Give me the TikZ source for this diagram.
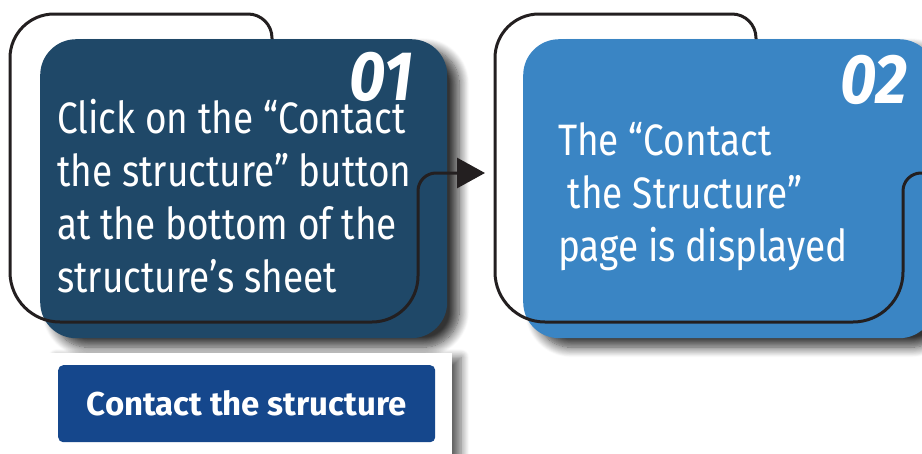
\documentclass[tikz,border=0pt]{standalone}
\usepackage{fontspec}
\setmainfont{Fira Sans}[FakeStretch=0.84]
\newfontfamily\numfont{Fira Sans}[FakeStretch=0.9]
\newfontfamily\btnfont{Fira Sans}
\usetikzlibrary{arrows.meta,shadows.blur}
\definecolor{stepnavy}{RGB}{31,72,104}
\definecolor{stepblue}{RGB}{58,133,196}
\definecolor{btnblue}{RGB}{21,71,140}
\definecolor{inkline}{RGB}{35,31,32}

\begin{document}
\begin{tikzpicture}[x=1pt, y=-1pt,
    card/.style = {rounded corners=36pt, inner sep=0pt, anchor=north west,
        blur shadow={shadow xshift=12pt, shadow yshift=-9pt, shadow blur steps=12, shadow blur radius=10pt, shadow opacity=80}},
    steptext/.style = {text=white, align=left, anchor=north west, inner sep=0pt, font=\fontsize{44}{53}\selectfont},
    stepnum/.style = {text=white, anchor=north east, inner sep=0pt, font=\numfont\bfseries\itshape\fontsize{70}{70}\selectfont},
    outline/.style = {draw=inkline, line width=3pt}]
    \useasboundingbox (0,0) rectangle (922,453);

    % step cards
    \node[card, fill=stepnavy, minimum width=407pt, minimum height=299pt] (box1) at (40,39) {};
    \node[card, fill=stepblue, minimum width=412pt, minimum height=299pt] (box2) at (523,39) {};

    % button preview
    \node[fill=white, inner sep=0pt, anchor=north west, minimum width=405pt, minimum height=110pt,
        blur shadow={shadow xshift=9pt, shadow yshift=-4pt, shadow blur steps=10, shadow blur radius=8pt, shadow opacity=60}] (panel) at (47,353) {};
    \node[fill=btnblue, rounded corners=5pt, anchor=north west, minimum width=377pt, minimum height=77pt,
        text=white, font=\btnfont\bfseries\fontsize{33}{33}\selectfont] (button) at (58,365) {Contact the structure};

    % outlines
    \coordinate (arrowtip) at (485,173);
    \draw[outline, -{Triangle[length=28pt,width=30pt]}] (272,39)
        [rounded corners=24pt] -- (272,14) [rounded corners=44pt] -- (10,14)
        [rounded corners=50pt] -- (10,322) [rounded corners=46pt] -- (418,322)
        [rounded corners=18pt] -- (418,173) [sharp corners] -- (arrowtip);
    \draw[outline] (756,39)
        [rounded corners=24pt] -- (756,14) [rounded corners=44pt] -- (495,14)
        [rounded corners=50pt] -- (495,322) [rounded corners=50pt] -- (903,322)
        [rounded corners=18pt] -- (903,173) [sharp corners] -- (940,173);

    % texts
    \node[stepnum] (num1) at (413,52) {01};
    \node[stepnum] (num2) at (908,55) {02};
    \node[steptext] (text1) at (57,99) {Click on the “Contact\\the structure” button\\at the bottom of the\\structure’s sheet};
    \node[steptext] (text2) at (558,122) {The “Contact\\\ the Structure”\\page is displayed};
\end{tikzpicture}
\end{document}
